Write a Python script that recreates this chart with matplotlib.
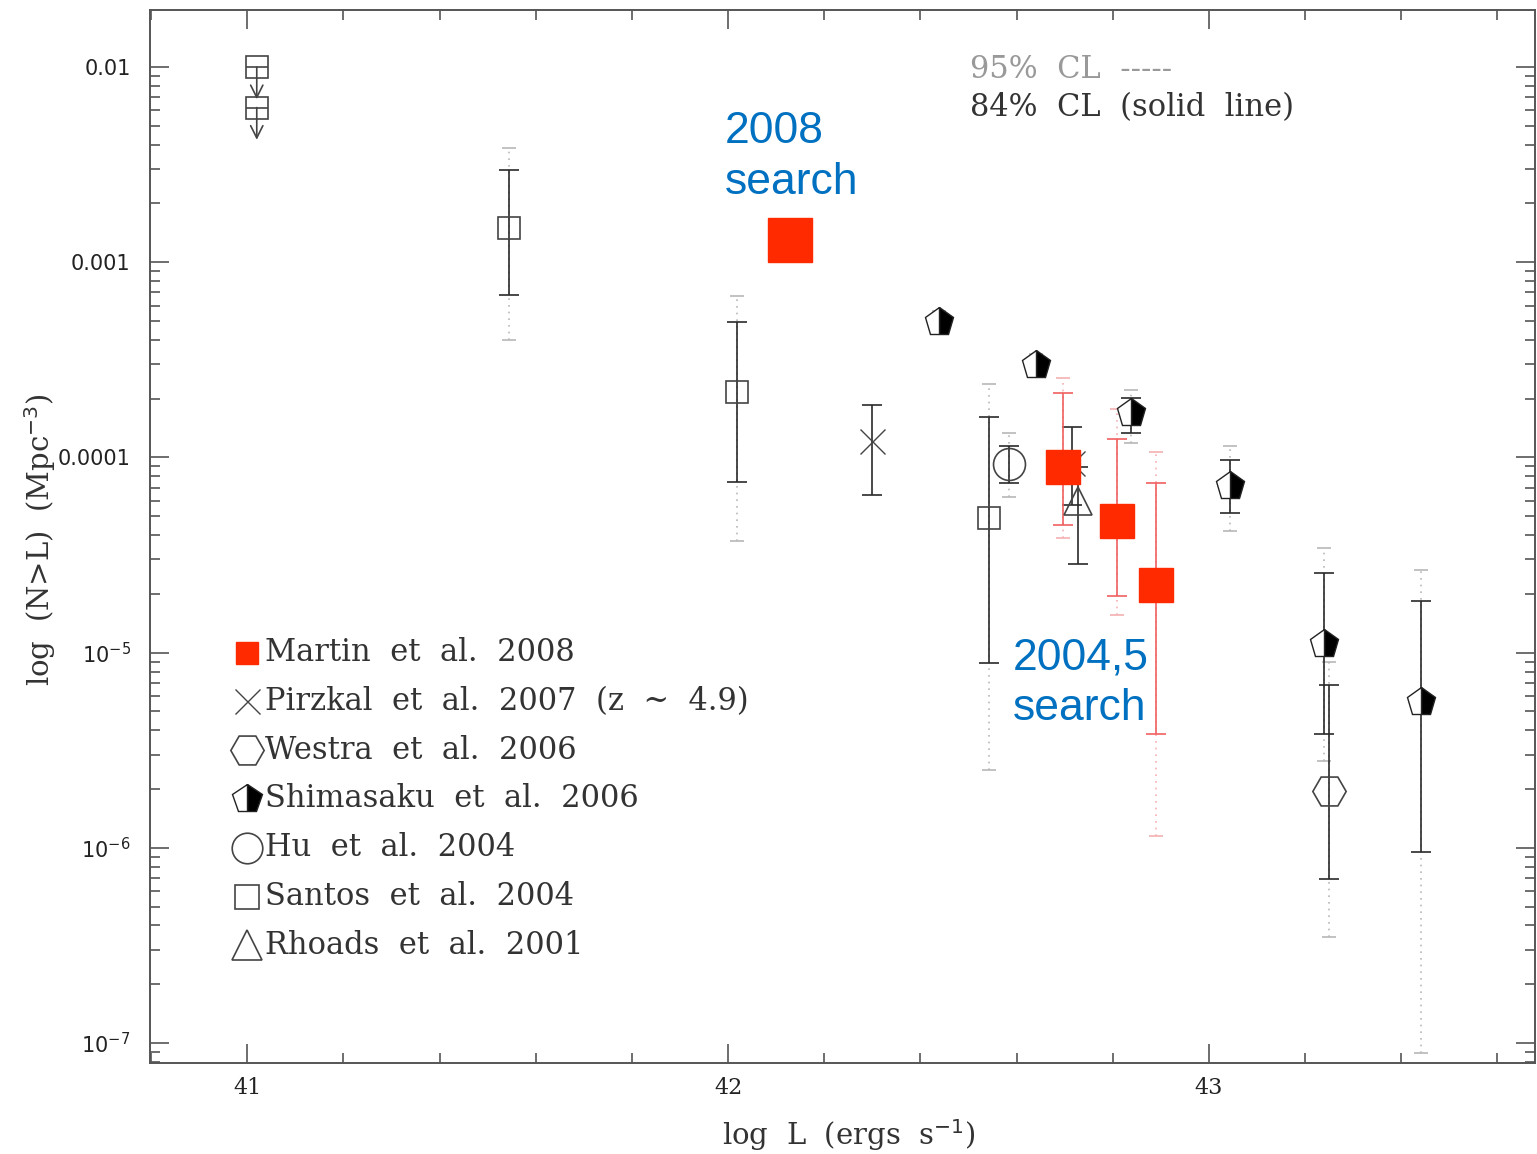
import numpy as np
import matplotlib
matplotlib.use("Agg")
import matplotlib.pyplot as plt
from matplotlib.ticker import LogLocator, MultipleLocator, NullFormatter

# ---- data (log L in erg/s, cumulative number density N(>L) in Mpc^-3) ----
# Martin et al. 2008 (red squares); first point has no error bars
martin_logl = [42.129, 42.696, 42.809, 42.890]
martin_n = [1.30e-3, 8.9e-5, 4.75e-5, 2.23e-5]
martin_lo84 = [np.nan, 4.48e-5, 1.96e-5, 3.85e-6]
martin_hi84 = [np.nan, 2.13e-4, 1.25e-4, 7.4e-5]
martin_lo95 = [np.nan, 3.85e-5, 1.55e-5, 1.15e-6]
martin_hi95 = [np.nan, 2.55e-4, 1.78e-4, 1.06e-4]

# Pirzkal et al. 2007 (z ~ 4.9)
pirzkal_logl = [42.299, 42.715]
pirzkal_n = [1.22e-4, 9.4e-5]
pirzkal_lo84 = [6.45e-5, 5.7e-5]
pirzkal_hi84 = [1.85e-4, 1.43e-4]

# Westra et al. 2006
westra_logl = [43.250]
westra_n = [1.96e-6]
westra_lo84 = [6.9e-7]
westra_hi84 = [6.85e-6]
westra_lo95 = [3.5e-7]
westra_hi95 = [9.0e-6]

# Shimasaku et al. 2006
shima_logl = [42.439, 42.640, 42.838, 43.044, 43.240, 43.441]
shima_n = [4.92e-4, 2.96e-4, 1.68e-4, 7.18e-5, 1.11e-5, 5.6e-6]
shima_lo84 = [4.6e-4, 2.75e-4, 1.34e-4, 5.2e-5, 3.85e-6, 9.5e-7]
shima_hi84 = [5.3e-4, 3.2e-4, 2.01e-4, 9.66e-5, 2.56e-5, 1.83e-5]
shima_lo95 = [4.4e-4, 2.6e-4, 1.19e-4, 4.2e-5, 2.8e-6, 8.9e-8]
shima_hi95 = [5.6e-4, 3.4e-4, 2.21e-4, 1.15e-4, 3.45e-5, 2.64e-5]

# Hu et al. 2004
hu_logl = [42.584]
hu_n = [9.3e-5]
hu_lo84 = [7.4e-5]
hu_hi84 = [1.15e-4]
hu_lo95 = [6.24e-5]
hu_hi95 = [1.33e-4]

# Santos et al. 2004 (two upper limits + three measurements)
santos_lim_logl = [41.02, 41.02]
santos_lim_n = [1.0e-2, 6.2e-3]
santos_logl = [41.545, 42.019, 42.543]
santos_n = [1.49e-3, 2.16e-4, 4.9e-5]
santos_lo84 = [6.8e-4, 7.5e-5, 8.8e-6]
santos_hi84 = [2.96e-3, 4.97e-4, 1.62e-4]
santos_lo95 = [4.0e-4, 3.75e-5, 2.5e-6]
santos_hi95 = [3.85e-3, 6.7e-4, 2.37e-4]

# Rhoads et al. 2001
rhoads_logl = [42.728]
rhoads_n = [6.0e-5]
rhoads_lo84 = [2.86e-5]
rhoads_hi84 = [8.9e-5]

legend_labels = [
    "Martin  et  al.  2008",
    "Pirzkal  et  al.  2007  (z  ~  4.9)",
    "Westra  et  al.  2006",
    "Shimasaku  et  al.  2006",
    "Hu  et  al.  2004",
    "Santos  et  al.  2004",
    "Rhoads  et  al.  2001",
]

RED = "#ff2a00"
RED_BAR = "#f06060"
BLUE = "#0070c0"
INK = "#2a2a2a"
DOT = "#b8b8b8"
SERIF = "DejaVu Serif"


def draw_bars(ax, x, y, lo, hi, color, dotted=False, capsize=7, lw=1.2, z=2):
    x, y, lo, hi = (np.asarray(v, dtype=float) for v in (x, y, lo, hi))
    ok = np.isfinite(lo) & np.isfinite(hi)
    if not ok.any():
        return
    yerr = np.vstack([y[ok] - lo[ok], hi[ok] - y[ok]])
    eb = ax.errorbar(x[ok], y[ok], yerr=yerr, fmt="none", ecolor=color,
                     elinewidth=lw, capsize=capsize, capthick=lw, zorder=z)
    if dotted:
        for line in eb[2]:
            line.set_linestyle((0, (1, 3)))


fig = plt.figure(figsize=(15.37, 11.54), dpi=100)
ax = fig.add_axes([150 / 1537, 91 / 1154, 1385 / 1537, 1053 / 1154])
ax.set_yscale("log")
ax.set_xlim(40.798, 43.678)
ax.set_ylim(10 ** -7.1026, 10 ** -1.7077)

# 95% CL (dotted, light)
draw_bars(ax, santos_logl, santos_n, santos_lo95, santos_hi95, DOT, dotted=True, capsize=5, z=1)
draw_bars(ax, shima_logl, shima_n, shima_lo95, shima_hi95, DOT, dotted=True, capsize=5, z=1)
draw_bars(ax, hu_logl, hu_n, hu_lo95, hu_hi95, DOT, dotted=True, capsize=5, z=1)
draw_bars(ax, westra_logl, westra_n, westra_lo95, westra_hi95, DOT, dotted=True, capsize=5, z=1)
draw_bars(ax, martin_logl, martin_n, martin_lo95, martin_hi95, "#f4b0b0", dotted=True, capsize=5, z=1)

# 84% CL (solid)
draw_bars(ax, santos_logl, santos_n, santos_lo84, santos_hi84, INK)
draw_bars(ax, shima_logl, shima_n, shima_lo84, shima_hi84, INK)
draw_bars(ax, hu_logl, hu_n, hu_lo84, hu_hi84, INK)
draw_bars(ax, westra_logl, westra_n, westra_lo84, westra_hi84, INK)
draw_bars(ax, pirzkal_logl, pirzkal_n, pirzkal_lo84, pirzkal_hi84, INK)
draw_bars(ax, rhoads_logl, rhoads_n, rhoads_lo84, rhoads_hi84, INK)
draw_bars(ax, martin_logl, martin_n, martin_lo84, martin_hi84, RED_BAR, z=3)

# markers
ax.plot(santos_logl, santos_n, ls="none", marker="s", ms=16, mfc="none", mec="#444", mew=1.2, zorder=4)
ax.plot(hu_logl, hu_n, ls="none", marker="o", ms=23, mfc="none", mec="#444", mew=1.2, zorder=4)
ax.plot(westra_logl, westra_n, ls="none", marker="H", ms=24, mfc="none", mec="#444", mew=1.2, zorder=4)
ax.plot(pirzkal_logl, pirzkal_n, ls="none", marker="x", ms=18, mec="#444", mew=1.0, zorder=4)
ax.plot(rhoads_logl, rhoads_n, ls="none", marker="^", ms=20, mfc="none", mec="#444", mew=1.2, zorder=4)
ax.plot(shima_logl, shima_n, ls="none", marker="p", ms=21, fillstyle="right", mfc="black",
        mfcalt="white", mec="#222", mew=1.0, zorder=5)
ax.plot(martin_logl[:1], martin_n[:1], ls="none", marker="s", ms=31, mfc=RED, mec=RED, zorder=6)
ax.plot(martin_logl[1:], martin_n[1:], ls="none", marker="s", ms=25, mfc=RED, mec=RED, zorder=6)

# Santos upper limits: box, cap and arrow pointing down
ax.plot(santos_lim_logl, santos_lim_n, ls="none", marker="s", ms=16, mfc="none", mec="#444", mew=1.2, zorder=4)
ax.plot(santos_lim_logl, santos_lim_n, ls="none", marker="_", ms=16, mec="#444", mew=1.2, zorder=4)
for lx, ly in zip(santos_lim_logl, santos_lim_n):
    ax.annotate("", xy=(lx, ly * 10 ** -0.165), xytext=(lx, ly),
                arrowprops=dict(arrowstyle="->", color="#444", lw=1.2,
                                mutation_scale=22, shrinkA=0, shrinkB=0), zorder=4)

# legend drawn in data space, one row every quarter decade
leg_x = 41.0
leg_tx = 41.037
leg_style = [
    dict(marker="s", ms=16, mfc=RED, mec=RED),
    dict(marker="x", ms=18, mec="#444", mew=1.0),
    dict(marker="H", ms=24, mfc="none", mec="#444", mew=1.2),
    dict(marker="p", ms=22, fillstyle="right", mfc="black", mfcalt="white", mec="#222", mew=1.0),
    dict(marker="o", ms=22, mfc="none", mec="#444", mew=1.2),
    dict(marker="s", ms=17, mfc="none", mec="#444", mew=1.2),
    dict(marker="^", ms=21, mfc="none", mec="#444", mew=1.2),
]
for i, (lab, st) in enumerate(zip(legend_labels, leg_style)):
    ly = 10 ** (-5 - 0.25 * i)
    ax.plot([leg_x], [ly], ls="none", **st)
    ax.text(leg_tx, ly, lab, family=SERIF, fontsize=22, color="#333", va="center", ha="left")

ax.text(0.592, 0.935, "95%  CL  -----", transform=ax.transAxes, family=SERIF,
        fontsize=22, color="#999", va="baseline")
ax.text(0.592, 0.899, "84%  CL  (solid  line)", transform=ax.transAxes, family=SERIF,
        fontsize=22, color="#333", va="baseline")

ax.text(0.415, 0.904, "2008\nsearch", transform=ax.transAxes, family="Liberation Sans",
        fontsize=32, color=BLUE, va="top", ha="left", linespacing=1.3)
ax.text(0.623, 0.404, "2004,5\nsearch", transform=ax.transAxes, family="Liberation Sans",
        fontsize=32, color=BLUE, va="top", ha="left", linespacing=1.3)

# axes styling
for sp in ax.spines.values():
    sp.set_color("#555")
    sp.set_linewidth(1.4)
ax.set_xticks([41, 42, 43])
ax.set_xticklabels(["41", "42", "43"], family=SERIF, fontsize=16)
ax.xaxis.set_minor_locator(MultipleLocator(0.2))
ax.set_yticks([1e-2, 1e-3, 1e-4, 1e-5, 1e-6, 1e-7])
ax.set_yticklabels(["0.01", "0.001", "0.0001", r"$10^{-5}$", r"$10^{-6}$", r"$10^{-7}$"],
                   family="DejaVu Sans", fontsize=15)
ax.yaxis.set_minor_locator(LogLocator(base=10, subs=np.arange(2, 10)))
ax.yaxis.set_minor_formatter(NullFormatter())
ax.tick_params(which="both", direction="in", top=True, right=True, color="#555", width=1.2,
               labelcolor="#222")
ax.tick_params(which="major", length=14)
ax.tick_params(which="minor", length=7)
ax.tick_params(axis="y", pad=14)
ax.tick_params(axis="x", pad=10)

fig.text(0.552, 0.0165, r"log  L  (ergs  s$^{-1}$)", family=SERIF, fontsize=21,
         color="#333", ha="center", va="center")
fig.text(0.026, 0.532, r"log  (N>L)  (Mpc$^{-3}$)", family=SERIF, fontsize=21,
         color="#333", ha="center", va="center", rotation=90)

fig.savefig("out.png", dpi=100)
